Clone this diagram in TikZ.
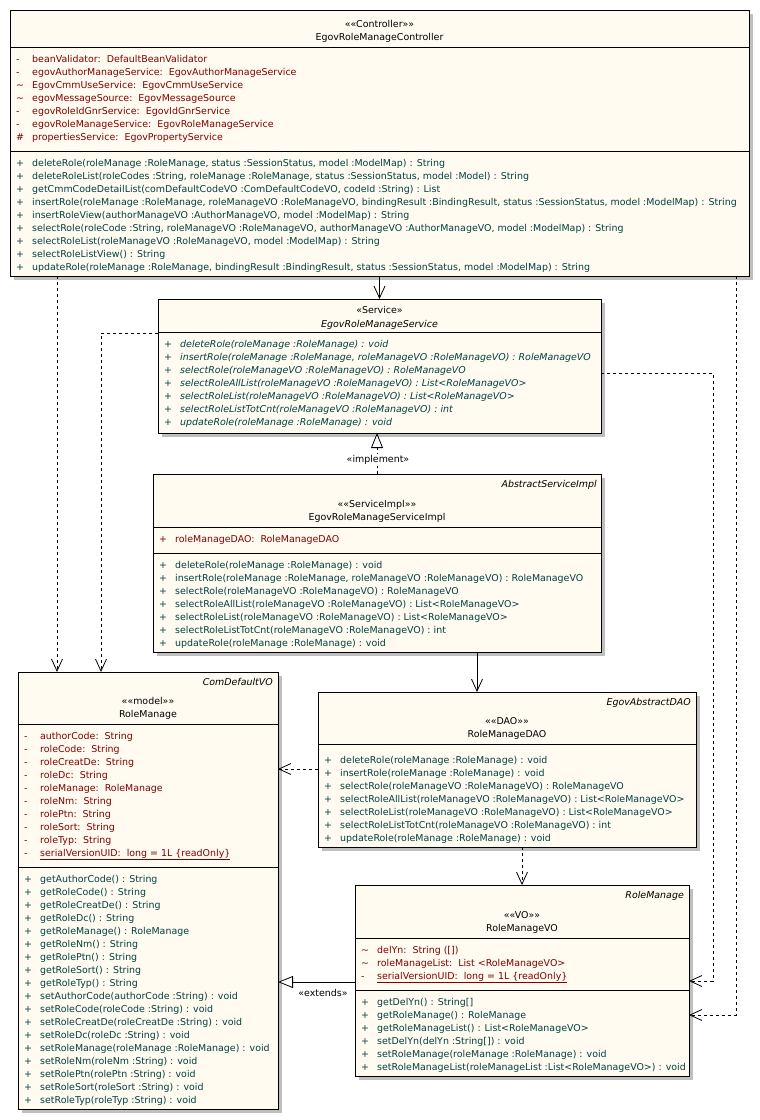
\documentclass[tikz,border=0pt]{standalone}
\usepackage{fontspec}
\setmainfont{DejaVu Sans}
\usetikzlibrary{arrows.meta,shadows}
\definecolor{boxfill}{RGB}{255,251,240}
\definecolor{attrred}{RGB}{128,0,0}
\definecolor{opteal}{RGB}{0,64,64}
\newcommand{\umlrow}[2]{\makebox[16pt][l]{#1}#2}
\newcommand{\sepline}[2]{\draw[line width=0.9pt] ([yshift=-#2pt]#1.north west) -- ([yshift=-#2pt]#1.north east);}

\begin{document}
\begin{tikzpicture}[x=1pt, y=-1pt, >=latex,
   font=\fontsize{9.45pt}{13pt}\selectfont,
   classbox/.style={draw, line width=0.9pt, fill=boxfill, anchor=north west, inner sep=0pt, outer sep=0pt,
      drop shadow={shadow xshift=4pt, shadow yshift=-4pt, fill=black!25, opacity=1}},
   row/.style={anchor=base west, inner sep=0pt},
   attr/.style={row, text=attrred},
   oper/.style={row, text=opteal},
   head/.style={anchor=base, inner sep=0pt},
   superhead/.style={anchor=base east, inner sep=0pt, font=\fontsize{9.45pt}{13pt}\selectfont\itshape},
   tag/.style={inner sep=1pt, fill=white},
   dep/.style={-{Straight Barb[length=12pt,width=11pt]}, line width=0.8pt, dash pattern=on 3pt off 3pt},
   assoc/.style={-{Straight Barb[length=12pt,width=11pt]}, line width=0.8pt},
   real/.style={-{Triangle[open,length=15pt,width=12pt,fill=white]}, line width=0.8pt, dash pattern=on 3pt off 3pt},
   gen/.style={-{Triangle[open,length=15pt,width=12pt,fill=white]}, line width=0.8pt}
   ]
   \useasboundingbox (0,0) rectangle (760,1120);

   % class boxes
   \node[classbox, minimum width=739pt, minimum height=266pt] (ctrl) at (10,10) {};
   \node[classbox, minimum width=443pt, minimum height=134pt] (svc) at (158,299) {};
   \node[classbox, minimum width=448pt, minimum height=178pt] (impl) at (153,474) {};
   \node[classbox, minimum width=260pt, minimum height=437pt] (rm) at (18,672) {};
   \node[classbox, minimum width=378pt, minimum height=155pt] (dao) at (318,692) {};
   \node[classbox, minimum width=334pt, minimum height=191pt] (vo) at (355,885) {};

   \sepline{ctrl}{37} \sepline{ctrl}{141}
   \sepline{svc}{33}
   \sepline{impl}{53} \sepline{impl}{79}
   \sepline{rm}{52} \sepline{rm}{195}
   \sepline{dao}{52}
   \sepline{vo}{53} \sepline{vo}{105}

   % EgovRoleManageController
   \node[head] (ctrl-st) at (379.5,27) {«<<Controller>>»};
   \node[head] (ctrl-nm) at (379.5,40) {EgovRoleManageController};
   \foreach \m/\t [count=\i] in {
      -/{beanValidator:\ \ DefaultBeanValidator},
      -/{egovAuthorManageService:\ \ EgovAuthorManageService},
      \textasciitilde/{EgovCmmUseService:\ \ EgovCmmUseService},
      \textasciitilde/{egovMessageSource:\ \ EgovMessageSource},
      -/{egovRoleIdGnrService:\ \ EgovIdGnrService},
      -/{egovRoleManageService:\ \ EgovRoleManageService},
      \#/{propertiesService:\ \ EgovPropertyService}}
      \node[attr] (ctrl-a\i) at (16,49+13*\i) {\umlrow{\m}{\t}};
   \foreach \t [count=\i] in {
      {deleteRole(roleManage :RoleManage, status :SessionStatus, model :ModelMap) : String},
      {deleteRoleList(roleCodes :String, roleManage :RoleManage, status :SessionStatus, model :Model) : String},
      {getCmmCodeDetailList(comDefaultCodeVO :ComDefaultCodeVO, codeId :String) : List},
      {insertRole(roleManage :RoleManage, roleManageVO :RoleManageVO, bindingResult :BindingResult, status :SessionStatus, model :ModelMap) : String},
      {insertRoleView(authorManageVO :AuthorManageVO, model :ModelMap) : String},
      {selectRole(roleCode :String, roleManageVO :RoleManageVO, authorManageVO :AuthorManageVO, model :ModelMap) : String},
      {selectRoleList(roleManageVO :RoleManageVO, model :ModelMap) : String},
      {selectRoleListView() : String},
      {updateRole(roleManage :RoleManage, bindingResult :BindingResult, status :SessionStatus, model :ModelMap) : String}}
      \node[oper] (ctrl-o\i) at (16,153+13*\i) {\umlrow{+}{\t}};

   % EgovRoleManageService
   \node[head] (svc-st) at (379.5,313) {«Service»};
   \node[head] (svc-nm) at (379.5,327) {\itshape EgovRoleManageService};
   \foreach \t [count=\i] in {
      {deleteRole(roleManage :RoleManage) : void},
      {insertRole(roleManage :RoleManage, roleManageVO :RoleManageVO) : RoleManageVO},
      {selectRole(roleManageVO :RoleManageVO) : RoleManageVO},
      {selectRoleAllList(roleManageVO :RoleManageVO) : List<RoleManageVO>},
      {selectRoleList(roleManageVO :RoleManageVO) : List<RoleManageVO>},
      {selectRoleListTotCnt(roleManageVO :RoleManageVO) : int},
      {updateRole(roleManage :RoleManage) : void}}
      \node[oper] (svc-o\i) at (164,334+13*\i) {\itshape\umlrow{+}{\t}};

   % EgovRoleManageServiceImpl
   \node[superhead] (impl-sup) at (597,487) {AbstractServiceImpl};
   \node[head] (impl-st) at (377,507) {«<<ServiceImpl>>»};
   \node[head] (impl-nm) at (377,520) {EgovRoleManageServiceImpl};
   \node[attr] (impl-a1) at (159,542) {\umlrow{+}{roleManageDAO:\ \ RoleManageDAO}};
   \foreach \t [count=\i] in {
      {deleteRole(roleManage :RoleManage) : void},
      {insertRole(roleManage :RoleManage, roleManageVO :RoleManageVO) : RoleManageVO},
      {selectRole(roleManageVO :RoleManageVO) : RoleManageVO},
      {selectRoleAllList(roleManageVO :RoleManageVO) : List<RoleManageVO>},
      {selectRoleList(roleManageVO :RoleManageVO) : List<RoleManageVO>},
      {selectRoleListTotCnt(roleManageVO :RoleManageVO) : int},
      {updateRole(roleManage :RoleManage) : void}}
      \node[oper] (impl-o\i) at (159,555+13*\i) {\umlrow{+}{\t}};

   % RoleManage
   \node[superhead] (rm-sup) at (273,685) {ComDefaultVO};
   \node[head] (rm-st) at (148,704) {«<<model>>»};
   \node[head] (rm-nm) at (148,717) {RoleManage};
   \foreach \t [count=\i] in {
      {authorCode:\ \ String}, {roleCode:\ \ String}, {roleCreatDe:\ \ String},
      {roleDc:\ \ String}, {roleManage:\ \ RoleManage}, {roleNm:\ \ String},
      {rolePtn:\ \ String}, {roleSort:\ \ String}, {roleTyp:\ \ String}}
      \node[attr] (rm-a\i) at (24,726+13*\i) {\umlrow{-}{\t}};
   \node[attr] (rm-a10) at (24,856) {\umlrow{-}{\underline{serialVersionUID:\ \ long = 1L \{readOnly\}}}};
   \foreach \t [count=\i] in {
      {getAuthorCode() : String}, {getRoleCode() : String}, {getRoleCreatDe() : String},
      {getRoleDc() : String}, {getRoleManage() : RoleManage}, {getRoleNm() : String},
      {getRolePtn() : String}, {getRoleSort() : String}, {getRoleTyp() : String},
      {setAuthorCode(authorCode :String) : void}, {setRoleCode(roleCode :String) : void},
      {setRoleCreatDe(roleCreatDe :String) : void}, {setRoleDc(roleDc :String) : void},
      {setRoleManage(roleManage :RoleManage) : void}, {setRoleNm(roleNm :String) : void},
      {setRolePtn(rolePtn :String) : void}, {setRoleSort(roleSort :String) : void},
      {setRoleTyp(roleTyp :String) : void}}
      \node[oper] (rm-o\i) at (24,869+13*\i) {\umlrow{+}{\t}};

   % RoleManageDAO
   \node[superhead] (dao-sup) at (691,705) {EgovAbstractDAO};
   \node[head] (dao-st) at (507,724) {«<<DAO>>»};
   \node[head] (dao-nm) at (507,737) {RoleManageDAO};
   \foreach \t [count=\i] in {
      {deleteRole(roleManage :RoleManage) : void},
      {insertRole(roleManage :RoleManage) : void},
      {selectRole(roleManageVO :RoleManageVO) : RoleManageVO},
      {selectRoleAllList(roleManageVO :RoleManageVO) : List<RoleManageVO>},
      {selectRoleList(roleManageVO :RoleManageVO) : List<RoleManageVO>},
      {selectRoleListTotCnt(roleManageVO :RoleManageVO) : int},
      {updateRole(roleManage :RoleManage) : void}}
      \node[oper] (dao-o\i) at (324,750+13*\i) {\umlrow{+}{\t}};

   % RoleManageVO
   \node[superhead] (vo-sup) at (684,898) {RoleManage};
   \node[head] (vo-st) at (522,918) {«<<VO>>»};
   \node[head] (vo-nm) at (522,931) {RoleManageVO};
   \node[attr] (vo-a1) at (361,953) {\umlrow{\textasciitilde}{delYn:\ \ String ([])}};
   \node[attr] (vo-a2) at (361,966) {\umlrow{\textasciitilde}{roleManageList:\ \ List <RoleManageVO>}};
   \node[attr] (vo-a3) at (361,979) {\umlrow{-}{\underline{serialVersionUID:\ \ long = 1L \{readOnly\}}}};
   \foreach \t [count=\i] in {
      {getDelYn() : String[]}, {getRoleManage() : RoleManage},
      {getRoleManageList() : List<RoleManageVO>}, {setDelYn(delYn :String[]) : void},
      {setRoleManage(roleManage :RoleManage) : void},
      {setRoleManageList(roleManageList :List<RoleManageVO>) : void}}
      \node[oper] (vo-o\i) at (361,992+13*\i) {\umlrow{+}{\t}};

   % connectors
   \coordinate (b1) at (101,333);
   \coordinate (b2) at (713,373);
   \coordinate (b3) at (713,981);
   \coordinate (b4) at (736,1015);
   \coordinate (b5) at (477,0);
   \coordinate (b6) at (0,769);
   \coordinate (b7) at (0,982);
   \coordinate (b8) at (57,0);

   \draw[assoc] (ctrl.south -| svc.north) -- (svc.north);
   \draw[dep] (ctrl.south -| b8) -- (rm.north -| b8);
   \draw[dep] (ctrl.south -| b4) |- (vo.east |- b4);
   \draw[dep] (svc.west |- b1) -| (rm.north -| b1);
   \draw[dep] (svc.east |- b2) -| (b3) -- (vo.east |- b3);
   \draw[real] (impl.north) -- (impl.north |- svc.south);
   \node[tag] (impl-tag) at (378,460) {«implement»};
   \draw[assoc] (impl.south -| b5) -- (dao.north -| b5);
   \draw[dep] (dao.west |- b6) -- (rm.east |- b6);
   \draw[dep] (dao.south -| vo.north) -- (vo.north);
   \draw[gen] (vo.west |- b7) -- (rm.east |- b7);
   \node[inner sep=0pt] (ext-tag) at (323,993) {«extends»};
\end{tikzpicture}
\end{document}
